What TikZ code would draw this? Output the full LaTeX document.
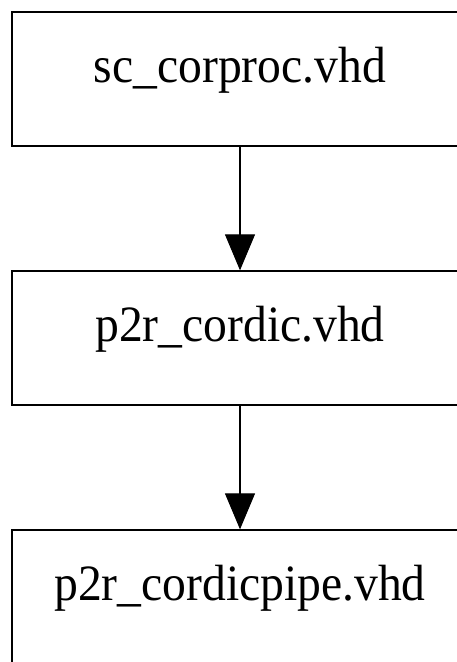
\documentclass[tikz,border=0pt]{standalone}
\usepackage{fontspec}
\setmainfont{Liberation Serif}
\usetikzlibrary{arrows.meta}
% file names are set slightly taller than wide
\newcommand\filename[1]{\scalebox{1}[1.07]{#1}}
\begin{document}
\begin{tikzpicture}[x=1pt,y=1pt,
  filebox/.style={draw, line width=1.3pt, minimum width=456pt, minimum height=134pt,
    inner sep=0pt, text height=40pt, text depth=34pt,
    font=\fontsize{47.6}{50}\selectfont},
  dep/.style={line width=1.1pt, -{Triangle[length=36pt,width=30pt]}}]
  \useasboundingbox (0,0) rectangle (457,-662);
  \clip (0,0) rectangle (457,-662);
  \node[filebox] (top) at (240,-79) {\filename{sc\_corproc.vhd}};
  \node[filebox] (mid) at (240,-338) {\filename{p2r\_cordic.vhd}};
  \node[filebox] (bot) at (240,-597) {\filename{p2r\_cordicpipe.vhd}};
  \draw[dep] (top) -- (mid);
  \draw[dep] (mid) -- (bot);
\end{tikzpicture}
\end{document}
